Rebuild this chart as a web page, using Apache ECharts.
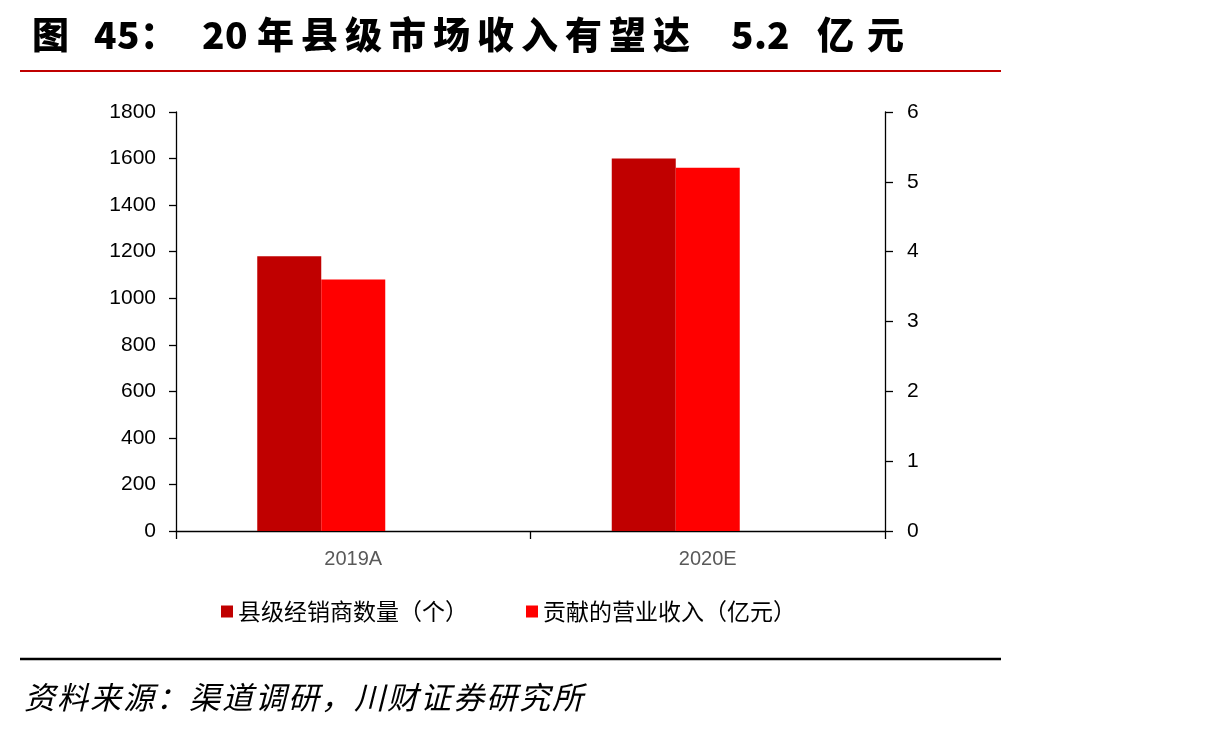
<!DOCTYPE html>
<html>
<head>
<meta charset="utf-8">
<script src="https://cdn.jsdelivr.net/npm/echarts@6/dist/echarts.min.js"></script>
<style>
  html, body { margin: 0; padding: 0; background: #fff; }
  #main { width: 1222px; height: 729px; }
</style>
</head>
<body>
<div id="main"></div>
<script>
// 数据
var categories = ['2019A', '2020E'];
var dealerCount = [1180, 1600];      // 县级经销商数量（个）
var revenue = [3.6, 5.2];            // 贡献的营业收入（亿元）
var leftTicks = { min: 0, max: 1800, interval: 200 };
var rightTicks = { min: 0, max: 6, interval: 1 };
var seriesNames = ['县级经销商数量（个）', '贡献的营业收入（亿元）'];

var cjk = '"Noto Sans CJK SC", sans-serif';
var num = '"Liberation Sans", Arial, sans-serif';

// 把每个字包成富文本片段（原图字距较宽）
function wrap(str, style) {
	var out = '';
	for (var i = 0; i < str.length; i++) {
		out += '{' + style + '|' + str.charAt(i) + '}';
	}
	return out;
}

var titleText = wrap('图', 'c') + '{g18| }' + wrap('45', 'd') + wrap('：', 'c') + '{g18| }'
	+ wrap('20', 'd') + '{g9| }' + wrap('年县级市场收入有望达', 'c') + '{g34| }'
	+ '{d|5}{p|.}{d|2}{g27| }' + wrap('亿元', 'e');

var tBase = { fontFamily: cjk, fontSize: 37, fontWeight: 900, color: '#000', lineHeight: 44 };
function tStyle(w) {
	return echarts.util.extend({ width: w, align: 'left' }, tBase);
}

var sourceText = wrap('资料来源：渠道调研，川财证券研究所', 's');

var chart = echarts.init(document.getElementById('main'));

var option = {
	animation: false,
	title: {
		text: titleText,
		left: 27,
		top: 8,
		textStyle: {
			rich: {
				c: tStyle(44),
				e: tStyle(50),
				d: tStyle(23),
				p: tStyle(13),
				g9: tStyle(9),
				g18: tStyle(18),
				g27: tStyle(27),
				g34: tStyle(34)
			}
		}
	},
	legend: {
		data: seriesNames,
		left: 216,
		top: 595,
		icon: 'rect',
		itemWidth: 12,
		itemHeight: 12,
		itemGap: 58,
		textStyle: {
			fontFamily: cjk,
			fontSize: 23,
			color: '#000'
		}
	},
	grid: {
		left: 176,
		right: 337,
		top: 112,
		bottom: 198,
		containLabel: false
	},
	xAxis: {
		type: 'category',
		data: categories,
		axisLine: { lineStyle: { color: '#000', width: 1.3 } },
		axisTick: { show: true, length: 8, lineStyle: { color: '#000', width: 1.3 } },
		axisLabel: {
			margin: 18,
			fontFamily: num,
			fontSize: 20,
			color: '#595959'
		}
	},
	yAxis: [
		{
			type: 'value',
			min: leftTicks.min,
			max: leftTicks.max,
			interval: leftTicks.interval,
			splitLine: { show: false },
			axisLine: { show: true, lineStyle: { color: '#000', width: 1.3 } },
			axisTick: { show: true, length: 7, lineStyle: { color: '#000', width: 1.3 } },
			axisLabel: {
				margin: 20,
				fontFamily: num,
				fontSize: 21,
				color: '#000',
				formatter: function (v) { return String(v); }
			}
		},
		{
			type: 'value',
			position: 'right',
			min: rightTicks.min,
			max: rightTicks.max,
			interval: rightTicks.interval,
			splitLine: { show: false },
			axisLine: { show: true, lineStyle: { color: '#000', width: 1.3 } },
			axisTick: { show: true, length: 8, lineStyle: { color: '#000', width: 1.3 } },
			axisLabel: {
				margin: 22,
				fontFamily: num,
				fontSize: 21,
				color: '#000',
				formatter: function (v) { return String(v); }
			}
		}
	],
	series: [
		{
			name: seriesNames[0],
			type: 'bar',
			yAxisIndex: 0,
			barWidth: 64,
			barGap: '0%',
			itemStyle: { color: '#C00000' },
			data: dealerCount
		},
		{
			name: seriesNames[1],
			type: 'bar',
			yAxisIndex: 1,
			barWidth: 64,
			barGap: '0%',
			itemStyle: { color: '#FF0000' },
			data: revenue
		},
		{
			// 占位系列，使柱组相对刻度左移半个柱宽
			name: 'placeholder',
			type: 'bar',
			yAxisIndex: 1,
			barWidth: 64,
			barGap: '0%',
			data: ['-', '-']
		}
	],
	graphic: [
		{
			type: 'line',
			shape: { x1: 20, y1: 71, x2: 1001, y2: 71 },
			style: { stroke: '#C00000', lineWidth: 2 }
		},
		{
			type: 'line',
			shape: { x1: 20, y1: 659, x2: 1001, y2: 659 },
			style: { stroke: '#000', lineWidth: 2.5 }
		},
		{
			type: 'text',
			left: 24,
			top: 682,
			style: {
				text: sourceText,
				rich: {
					s: {
						width: 33,
						align: 'left',
						font: 'italic 31px "Noto Sans CJK SC", sans-serif',
						fontStyle: 'italic',
						fontSize: 31,
						fontFamily: cjk,
						fill: '#000'
					}
				}
			}
		}
	]
};

chart.setOption(option);
</script>
</body>
</html>
